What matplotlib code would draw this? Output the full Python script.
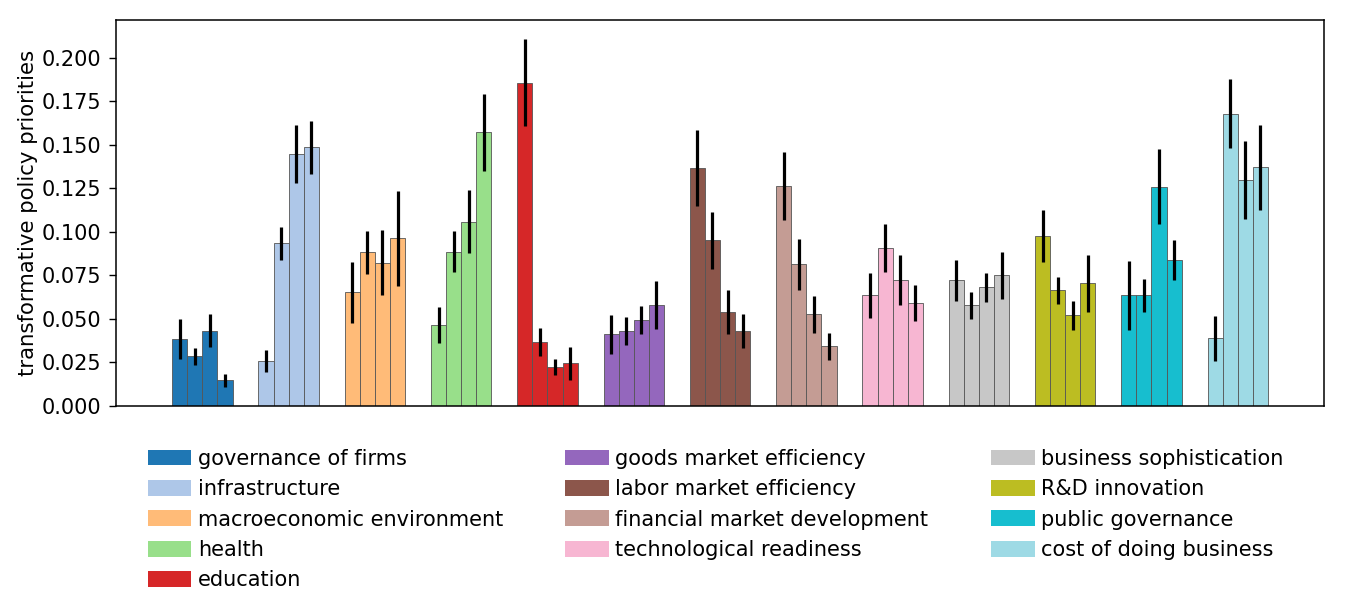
import numpy as np
import matplotlib
matplotlib.use("Agg")
import matplotlib.pyplot as plt
from matplotlib.patches import Patch

# pillar names (legend), one colour each from tab20
pillars = ['governance of firms', 'infrastructure', 'macroeconomic environment',
           'health', 'education', 'goods market efficiency',
           'labor market efficiency', 'financial market development',
           'technological readiness', 'business sophistication',
           'R&D innovation', 'public governance', 'cost of doing business']
colors = ['#1f77b4', '#aec7e8', '#ffbb78', '#98df8a', '#d62728', '#9467bd',
          '#8c564b', '#c49c94', '#f7b6d2', '#c7c7c7', '#bcbd22', '#17becf',
          '#9edae5']

# four bars per pillar
means = [
    [0.0385, 0.0285, 0.0433, 0.0147],
    [0.0258, 0.0934, 0.1445, 0.1485],
    [0.0653, 0.0882, 0.0823, 0.0963],
    [0.0463, 0.0886, 0.1058, 0.1571],
    [0.1857, 0.0366, 0.0224, 0.0245],
    [0.0413, 0.0429, 0.0494, 0.0580],
    [0.1367, 0.0951, 0.0540, 0.0429],
    [0.1263, 0.0813, 0.0526, 0.0343],
    [0.0635, 0.0907, 0.0723, 0.0590],
    [0.0722, 0.0578, 0.0682, 0.0752],
    [0.0976, 0.0664, 0.0521, 0.0704],
    [0.0635, 0.0635, 0.1259, 0.0838],
    [0.0388, 0.1679, 0.1296, 0.1370],
]
errors = [
    [0.0115, 0.0048, 0.0097, 0.0035],
    [0.0062, 0.0093, 0.0167, 0.0153],
    [0.0176, 0.0122, 0.0185, 0.0273],
    [0.0103, 0.0118, 0.0182, 0.0223],
    [0.0251, 0.0080, 0.0048, 0.0093],
    [0.0112, 0.0081, 0.0082, 0.0139],
    [0.0220, 0.0165, 0.0128, 0.0098],
    [0.0197, 0.0145, 0.0106, 0.0077],
    [0.0130, 0.0137, 0.0144, 0.0102],
    [0.0118, 0.0076, 0.0082, 0.0135],
    [0.0147, 0.0079, 0.0082, 0.0162],
    [0.0200, 0.0095, 0.0215, 0.0113],
    [0.0130, 0.0198, 0.0224, 0.0245],
]

plt.rcParams['font.size'] = 15

fig = plt.figure(figsize=(13.46, 6.15), dpi=100)
ax = fig.add_axes([0.0862, 0.3398, 0.8975, 0.6277])

width = 0.175
offsets = (np.arange(4) - 1.5) * width
for i, c in enumerate(colors):
    ax.bar(i + offsets, means[i], width=width, color=c, edgecolor='#555555',
           linewidth=0.6)
    ax.errorbar(i + offsets, means[i], yerr=errors[i], fmt='none',
                ecolor='black', elinewidth=2.3, capsize=0)

ax.set_xlim(-1, 13)
ax.set_ylim(0, 0.2216)
ax.set_xticks([])
ax.set_yticks(np.arange(0, 0.201, 0.025))
ax.tick_params(axis='y', length=4.8, width=1.0, pad=5.5)
ax.set_ylabel('transformative policy priorities', fontsize=15.3, labelpad=3)
for sp in ax.spines.values():
    sp.set_linewidth(1.1)

handles = [Patch(facecolor=c, edgecolor='none') for c in colors]
ax.legend(handles, pillars, loc='upper center', bbox_to_anchor=(0.4962, -0.062),
          ncol=3, frameon=False, handlelength=2.1, handleheight=0.78,
          handletextpad=0.3, columnspacing=3.0, labelspacing=0.5)

fig.savefig('out.png', dpi=100)
